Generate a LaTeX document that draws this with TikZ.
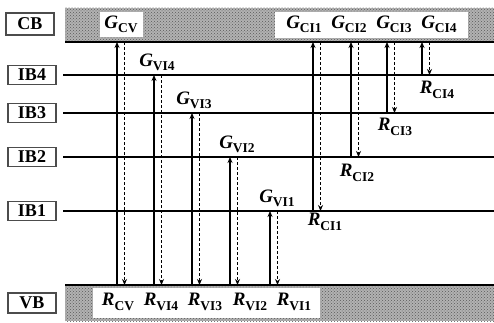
\documentclass[tikz,border=0pt]{standalone}
\usepackage{fontspec}
\setmainfont{Liberation Serif}
\usetikzlibrary{arrows.meta,patterns}
\newcommand\trans[2]{\textbf{\textit{#1}}\raisebox{-.5ex}{\fontsize{13.5}{13.5}\selectfont\bfseries #2}}

\begin{document}
\begin{tikzpicture}[x=1pt, y=-1pt, line width=1pt,
  band/.style={fill=gray!60, postaction={pattern=crosshatch dots, pattern color=black!65}},
  tag/.style={draw=gray!60!black, line width=1.4pt, inner sep=0, minimum width=48, minimum height=19, font=\fontsize{18}{20}\selectfont\bfseries},
  hole/.style={fill=white, inner sep=0},
  lab/.style={inner sep=0, font=\fontsize{19}{22}\selectfont},
  up/.style={line width=1.3pt, -{Stealth[length=6pt,width=5pt]}},
  down/.style={line width=1.4pt, -{Stealth[length=6pt,width=5pt]}, dash pattern=on 3pt off 2pt}]
\useasboundingbox (0,0) rectangle (494,323);
% bands
\fill[band] (65,8) rectangle (494,42);
\fill[band] (65,285) rectangle (494,321);
\coordinate (cbL) at (65,42);  \coordinate (cbR) at (494,42);
\coordinate (vbL) at (65,285); \coordinate (vbR) at (494,285);
\draw[line width=1.3pt] (cbL) -- (cbR);
\draw[line width=1.3pt] (vbL) -- (vbR);
\node[hole, minimum width=43, minimum height=25] (gcvbox) at (121.5,24.5) {};
\node[hole, minimum width=193, minimum height=26] (gcibox) at (371.5,25) {};
\node[hole, minimum width=227, minimum height=30] (rbox) at (206.5,303) {};
% band names
\node[tag, minimum height=22] (CB) at (30,24) {CB};
\node[tag, minimum height=20] (VB) at (32,303) {VB};
\foreach \b/\y in {4/75, 3/113, 2/157, 1/211} {
  \node[tag] (IB\b) at (32,\y) {IB\b};
  \coordinate (ib\b L) at (63,\y);
  \coordinate (ib\b R) at (494,\y);
  \draw[line width=1.4pt] (ib\b L) -- (ib\b R);
}
% transitions: solid up, dashed down
\foreach \n/\x/\t/\b in {cv/117/42/285, vi4/154/75/285, vi3/192/113/285, vi2/230/157/285, vi1/270/211/285,
                         ci1/313/42/211, ci2/351/42/157, ci3/387/42/113, ci4/422/42/75} {
  \coordinate (\n a) at (\x,\b);
  \coordinate (\n b) at (\x,\t);
  \coordinate (\n c) at (\x+7.5,\t);
  \coordinate (\n d) at (\x+7.5,\b);
  \draw[up] (\n a) -- (\n b);
  \draw[down] (\n c) -- (\n d);
}
% generation labels
\node[lab] (Gcv) at (121,24) {\trans{G}{CV}};
\node[lab] (Gci1) at (304,24) {\trans{G}{CI1}};
\node[lab] (Gci2) at (349,24) {\trans{G}{CI2}};
\node[lab] (Gci3) at (394,24) {\trans{G}{CI3}};
\node[lab] (Gci4) at (439,24) {\trans{G}{CI4}};
\node[lab] (Gvi4) at (157,62) {\trans{G}{VI4}};
\node[lab] (Gvi3) at (194,100) {\trans{G}{VI3}};
\node[lab] (Gvi2) at (237,144) {\trans{G}{VI2}};
\node[lab] (Gvi1) at (277,198) {\trans{G}{VI1}};
% recombination labels
\node[lab] (Rci4) at (437,90) {\trans{R}{CI4}};
\node[lab] (Rci3) at (395,127) {\trans{R}{CI3}};
\node[lab] (Rci2) at (357,173) {\trans{R}{CI2}};
\node[lab] (Rci1) at (325,222) {\trans{R}{CI1}};
\node[lab] (Rcv) at (118,302) {\trans{R}{CV}};
\node[lab] (Rvi4) at (161,302) {\trans{R}{VI4}};
\node[lab] (Rvi3) at (205,302) {\trans{R}{VI3}};
\node[lab] (Rvi2) at (250,302) {\trans{R}{VI2}};
\node[lab] (Rvi1) at (294,302) {\trans{R}{VI1}};
\end{tikzpicture}
\end{document}
